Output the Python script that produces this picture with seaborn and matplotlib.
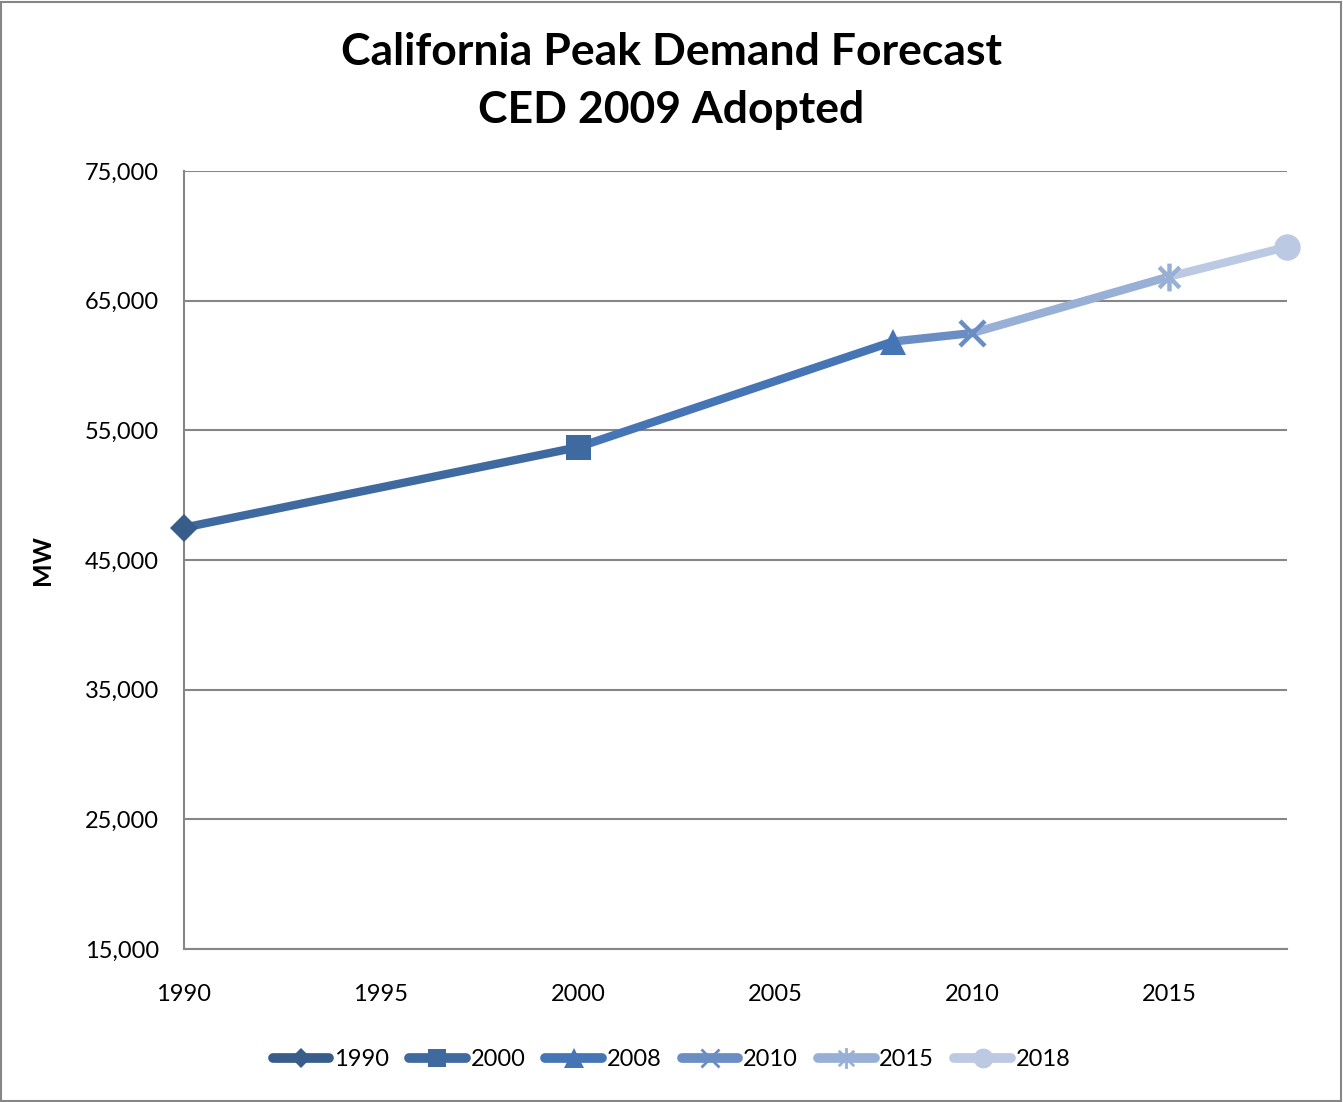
import matplotlib
matplotlib.use("Agg")
import matplotlib.pyplot as plt
from matplotlib.lines import Line2D
from matplotlib.patches import Rectangle
from matplotlib.path import Path
import seaborn as sns
import pandas as pd

# ---- data ----
years = [1990, 2000, 2008, 2010, 2015, 2018]
peak_mw = [47500, 53700, 61850, 62500, 66850, 69150]
labels = ["1990", "2000", "2008", "2010", "2015", "2018"]
colors = ["#385D8A", "#3F6AA0", "#4675B5", "#6A8DC4", "#98AFD6", "#BCC9E3"]
x_ticks = [1990, 1995, 2000, 2005, 2010, 2015]
y_ticks = [15000, 25000, 35000, 45000, 55000, 65000, 75000]

sns.set_theme(style="white")
plt.rcParams["font.family"] = ["Lato", "DejaVu Sans"]
plt.rcParams["text.color"] = "black"
plt.rcParams["axes.labelcolor"] = "black"
plt.rcParams["xtick.color"] = "black"
plt.rcParams["ytick.color"] = "black"

star = Path([(-1, -1), (1, 1), (-1, 1), (1, -1), (0, -1.35), (0, 1.35)],
            [Path.MOVETO, Path.LINETO, Path.MOVETO, Path.LINETO, Path.MOVETO, Path.LINETO])
markers = {"1990": "D", "2000": "s", "2008": "^", "2010": "x", "2015": star, "2018": "o"}
msizes = {"1990": 14, "2000": 18, "2008": 19, "2010": 18, "2015": 20, "2018": 19}

fig = plt.figure(figsize=(13.43, 11.02), dpi=100)
ax = fig.add_axes([0.137, 0.1388, 0.8213, 0.7060])

# segments: each segment coloured by the point it ends at
for i in range(1, len(years)):
    seg = pd.DataFrame({"year": years[i - 1:i + 1], "mw": peak_mw[i - 1:i + 1]})
    sns.lineplot(data=seg, x="year", y="mw", ax=ax, color=colors[i], linewidth=6,
                 solid_capstyle="round", legend=False, zorder=2)

df = pd.DataFrame({"year": years, "mw": peak_mw, "label": labels})
for i, lab in enumerate(labels):
    m = markers[lab]
    filled = lab not in ("2010", "2015")
    ax.plot(df["year"][i], df["mw"][i], marker=m, markersize=msizes[lab],
            color=colors[i], markeredgewidth=3.2 if not filled else 0,
            linestyle="none", zorder=3, clip_on=False)

ax.set_xlim(1990, 2018)
ax.set_ylim(15000, 75000)
ax.set_xticks(x_ticks)
ax.set_xticklabels([str(t) for t in x_ticks], fontsize=17)
ax.set_yticks(y_ticks)
ax.set_yticklabels([f"{t:,}" for t in y_ticks], fontsize=17)
ax.tick_params(axis="both", direction="out", length=8, width=1.5, color="#868686",
               labelcolor="black")
ax.tick_params(axis="x", pad=17)
ax.tick_params(axis="y", pad=10)
ax.yaxis.grid(True, color="#868686", linewidth=1.5)
ax.xaxis.grid(False)
for s in ["top", "right"]:
    ax.spines[s].set_visible(False)
for s in ["left", "bottom"]:
    ax.spines[s].set_color("#868686")
    ax.spines[s].set_linewidth(1.5)
ax.set_xlabel("")
ax.set_ylabel("MW", fontsize=18, fontweight="bold", labelpad=22, color="black")

fig.text(0.5, 1 - 52 / 1102, "California Peak Demand Forecast", fontsize=32,
         fontweight="bold", ha="center", va="center", color="black")
fig.text(0.5, 1 - 110 / 1102, "CED 2009 Adopted", fontsize=32,
         fontweight="bold", ha="center", va="center", color="black")

handles = []
for i, lab in enumerate(labels):
    filled = lab not in ("2010", "2015")
    handles.append(Line2D([0], [0], color=colors[i], linewidth=7, solid_capstyle="round",
                          marker=markers[lab], markersize=msizes[lab] * 0.75,
                          markeredgewidth=2 if not filled else 0))
fig.legend(handles, labels, loc="center", bbox_to_anchor=(0.5, 1 - 1060 / 1102), ncol=6,
           frameon=False, fontsize=17, handlelength=2.4, handletextpad=0.2,
           columnspacing=0.85)

fig.add_artist(Rectangle((0.0005, 0.0005), 0.998, 0.998, transform=fig.transFigure,
                         fill=False, edgecolor="#868686", linewidth=1.5))

fig.savefig("out.png", dpi=100)
